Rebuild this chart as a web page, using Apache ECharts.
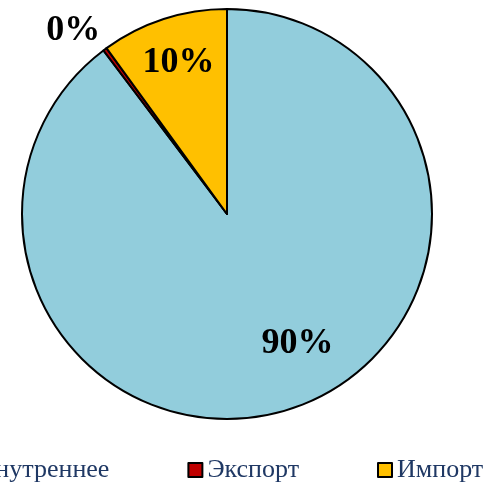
<!DOCTYPE html>
<html>
<head>
<meta charset="utf-8">
<script src="https://cdn.jsdelivr.net/npm/echarts@6/dist/echarts.min.js"></script>
<style>
  html, body { margin: 0; padding: 0; background: #fff; }
  #chart { width: 487px; height: 485px; }
</style>
</head>
<body>
<div id="chart"></div>
<script>
// данные
var categories = ['Внутреннее', 'Экспорт', 'Импорт'];
var values = [89.7, 0.3, 10.0];
var colors = ['#92cddc', '#c00000', '#ffc000'];
// сдвиги подписей от середины сектора
var labelOffsets = [[37, 30], [-91, -99], [-16, -51]];

var myChart = echarts.init(document.getElementById('chart'));

var pieData = [];
for (var i = 0; i < categories.length; i++) {
    pieData.push({
        name: categories[i],
        value: values[i],
        itemStyle: { color: colors[i] },
        label: { offset: labelOffsets[i] }
    });
}

var option = {
    animation: false,
    backgroundColor: '#ffffff',
    legend: {
        data: categories,
        left: -47,
        top: 452,
        width: 800,
        orient: 'horizontal',
        itemWidth: 14,
        itemHeight: 14,
        itemGap: 78,
        icon: 'rect',
        itemStyle: { borderColor: '#000', borderWidth: 2 },
        textStyle: {
            fontFamily: 'Liberation Serif',
            fontSize: 26,
            color: '#1f3864'
        }
    },
    series: [
        {
            name: 'Структура',
            type: 'pie',
            center: [227, 214],
            radius: 205,
            startAngle: 90,
            avoidLabelOverlap: false,
            emphasis: { disabled: true },
            itemStyle: { borderColor: '#000', borderWidth: 2 },
            label: {
                show: true,
                position: 'inside',
                fontFamily: 'Liberation Serif',
                fontWeight: 'bold',
                fontSize: 36,
                color: '#000',
                formatter: function (p) {
                    return Math.round(p.percent) + '%';
                }
            },
            labelLine: { show: false },
            data: pieData
        }
    ]
};
myChart.setOption(option);
</script>
</body>
</html>
